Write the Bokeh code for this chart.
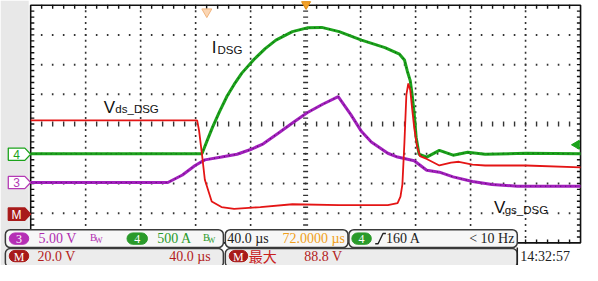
import math
from bokeh.plotting import figure
from bokeh.models import Range1d
from bokeh.core.properties import value
from bokeh.embed import file_html
from bokeh.resources import INLINE

# ---------------- data read from the screen ----------------
# time in µs relative to the screen centre (40 µs/div)
# Ch4  I_DSG  (500 A/div, ground marker 1 div below centre)
t_ids = [-200.0, -75.4, -71.2, -67.6, -62.7, -57.0, -52.0, -46.4, -37.9, -29.4,
         -21.6, -9.6, 1.1, 11.7, 24.4, 40.7, 57.7, 68.3, 71.9, 74.0,
         76.1, 77.5, 79.0, 80.4, 82.5, 88.1, 97.3, 107.3, 117.9, 130.6,
         160.4, 200.0]
i_ids = [0, 0, 246, 452, 706, 976, 1167, 1357, 1579, 1770,
         1913, 2056, 2119, 2127, 2056, 1913, 1786, 1675, 1579, 1389,
         1230, 992, 675, 278, -8, -56, 56, -24, 24, -8,
         8, 0]
# Math M  Vds_DSG  (20 V/div, ground marker 3 div below centre)
t_vds = [-200.0, -78.9, -77.5, -75.4, -73.3, -68.3, -61.2, -52.0, -32.9, -9.6,
         24.4, 59.8, 66.9, 69.0, 70.4, 71.9, 73.3, 74.7, 76.1, 77.5,
         79.0, 81.1, 83.2, 88.1, 97.3, 105.8, 111.5, 121.4, 130.6, 160.4,
         200.0]
v_vds = [62.5, 62.5, 55.6, 39.7, 22.5, 7.9, 4.1, 2.9, 4.1, 6.0,
         5.4, 5.4, 6.7, 11.1, 19.4, 47.9, 79.7, 87.3, 82.9, 70.2,
         57.5, 44.8, 38.4, 36.5, 32.1, 34.0, 34.6, 32.7, 32.1, 32.1,
         30.8]
# Ch3  Vgs_DSG  (5 V/div, ground marker 2 div below centre)
t_vgs = [-200.0, -100.2, -89.6, -80.4, -73.3, -61.2, -49.9, -40.0, -30.8, -20.2,
         -9.6, 1.1, 12.4, 23.7, 32.9, 40.7, 47.8, 59.8, 66.9, 79.0,
         88.1, 97.3, 107.3, 121.4, 135.6, 154.0, 200.0]
v_vgs = [0.16, 0.16, 1.43, 3.02, 3.97, 4.44, 4.92, 5.71, 6.67, 8.41,
         10.16, 11.90, 13.33, 14.60, 11.59, 8.73, 6.98, 5.08, 4.44, 3.81,
         2.22, 1.90, 1.11, 0.32, -0.16, -0.48, -0.48]

US_PER_DIV = 40.0
A_PER_DIV = 500.0
VGS_PER_DIV = 5.0
VDS_PER_DIV = 20.0
GND_CH4, GND_CH3, GND_M = -1, -2, -3

# status-bar texts
ch3_scale, ch4_scale, m_scale = "5.00 V", "500 A", "20.0 V"
timebase, hpos, mtime = "40.0 µs", "72.0000 µs", "40.0 µs"
trig_level, trig_freq = "160 A", "< 10 Hz"
max_label, max_value, clock = "最大", "88.8 V", "14:32:57"

# ---------------- screen geometry (reference pixels -> screen units) ----------------
CX, CY, PXX, PXY = 313.5, 131.0, 56.5, 31.5


def X(px):
    return (px - CX) / PXX * US_PER_DIV


def Y(py):
    return (CY - py) / PXY


y0, y1 = Y(281), Y(0)
p = figure(width=582, height=265, x_range=Range1d(X(0), X(598)), y_range=Range1d(y0, y1),
           x_axis_type=None, y_axis_type=None, min_border=0,
           toolbar_location=None, output_backend="svg")
p.outline_line_color = None
p.background_fill_color = "white"
p.border_fill_color = "white"
p.extra_y_ranges = {
    "ch4": Range1d((y0 - GND_CH4) * A_PER_DIV, (y1 - GND_CH4) * A_PER_DIV),
    "ch3": Range1d((y0 - GND_CH3) * VGS_PER_DIV, (y1 - GND_CH3) * VGS_PER_DIV),
    "m": Range1d((y0 - GND_M) * VDS_PER_DIV, (y1 - GND_M) * VDS_PER_DIV),
}

NARROW = "Liberation Sans Narrow"
SANS = "Liberation Sans"

# left grey strip
p.quad(left=[X(0)], right=[X(29)], top=[Y(0)], bottom=[Y(281)], fill_color="#e8e8e8", line_color=None)

# graticule dots
TMIN, TMAX = -5 * US_PER_DIV, 5 * US_PER_DIV
gx, gy = [], []
for k in range(-5, 6):
    if k in (-5, 0, 5):
        continue
    for j in range(1, 40):
        gx.append(k * US_PER_DIV)
        gy.append(-4 + 0.2 * j)
for d in range(-4, 5):
    if d in (-4, 0, 4):
        continue
    for j in range(1, 50):
        gx.append(TMIN + j * US_PER_DIV / 5)
        gy.append(d)
p.rect(x=gx, y=gy, width=1.6, height=2.0, width_units="screen", height_units="screen",
       fill_color="#333333", line_color=None)

# centre cross tick marks
tick_t = [TMIN + j * US_PER_DIV / 5 for j in range(1, 50)]
tick_d = [-4 + 0.2 * j for j in range(1, 40)]
p.rect(x=[0.0] * len(tick_d), y=tick_d, width=5, height=1.4, width_units="screen", height_units="screen",
       fill_color="#333333", line_color=None)
p.rect(x=tick_t, y=[0.0] * len(tick_t), width=1.4, height=5, width_units="screen", height_units="screen",
       fill_color="#333333", line_color=None)
# border ticks (pointing inward)
p.rect(x=tick_t, y=[4 - 0.05] * len(tick_t), width=1.4, height=4, width_units="screen", height_units="screen",
       fill_color="#111111", line_color=None)
p.rect(x=tick_t, y=[-4 + 0.05] * len(tick_t), width=1.4, height=4, width_units="screen", height_units="screen",
       fill_color="#111111", line_color=None)
p.rect(x=[TMIN + 1.2] * len(tick_d), y=tick_d, width=4, height=1.4, width_units="screen", height_units="screen",
       fill_color="#111111", line_color=None)
p.rect(x=[TMAX - 1.2] * len(tick_d), y=tick_d, width=4, height=1.4, width_units="screen", height_units="screen",
       fill_color="#111111", line_color=None)
# border
p.line([TMIN, TMIN, TMAX, TMAX, TMIN], [-4, 4, 4, -4, -4], line_color="#111", line_width=1.6)

# ---------------- traces ----------------
GREEN, MAGENTA, RED = "#1ba31b", "#a21fbd", "#e41515"
p.line(t_ids, i_ids, y_range_name="ch4", line_color=GREEN, line_width=3)
p.line(t_ids, i_ids, y_range_name="ch4", line_color="#111", line_width=1.1, line_dash="1 4", line_alpha=0.55)
p.line(t_vgs, v_vgs, y_range_name="ch3", line_color=MAGENTA, line_width=3)
p.line(t_vgs, v_vgs, y_range_name="ch3", line_color="#111", line_width=1.1, line_dash="1 4", line_alpha=0.55)
p.line(t_vds, v_vds, y_range_name="m", line_color=RED, line_width=1.8)


def label(px, py, s, color, size, font=NARROW, align="left", baseline="middle", style="normal"):
    p.text(x=[X(px)], y=[Y(py)], text=[s], text_color=color, text_font_size=f"{size}px",
           text_font=value(font), text_align=align, text_baseline=baseline, text_font_style=style)


# trace labels
label(217, 50, "I", "#111", 17, SANS, baseline="alphabetic")
label(223, 52.5, "DSG", "#111", 11.5, SANS, baseline="alphabetic")
label(106, 113, "V", "#111", 17, SANS, baseline="alphabetic")
label(118, 115.5, "ds_DSG", "#111", 11.5, SANS, baseline="alphabetic")
label(507, 220, "V", "#111", 17, SANS, baseline="alphabetic")
label(518, 222.5, "gs_DSG", "#111", 11.5, SANS, baseline="alphabetic")

# trigger / position markers
p.scatter([X(314)], [Y(4)], marker="inverted_triangle", size=9, fill_color="#f2a12a", line_color="#e08a10")
p.scatter([X(212)], [Y(12)], marker="inverted_triangle", size=10, fill_color="#fbd6b4", line_color="#f1b47c")
p.scatter([X(592)], [Y(153)], marker="triangle", angle=math.pi / 2, size=9, fill_color=GREEN, line_color=GREEN)


# channel ground markers
def marker(ypx, txt, line, fill, tcolor):
    xs = [X(8), X(25), X(31), X(25), X(8)]
    ys = [Y(ypx - 6.5), Y(ypx - 6.5), Y(ypx), Y(ypx + 6.5), Y(ypx + 6.5)]
    p.patch(xs, ys, fill_color=fill, line_color=line, line_width=1.3)
    label(16.5, ypx + 0.5, txt, tcolor, 12, SANS, align="center")


M_RED = "#a81a1a"
marker(163, "4", GREEN, "white", GREEN)
marker(193, "3", "#b43ab4", "white", "#b43ab4")
marker(226.5, "M", M_RED, M_RED, "white")


# ---------------- status bar ----------------
def box(x0, x1, ya, yb, fill, line="#3a3a3a", lw=1.5, r=5):
    p.quad(left=[X(x0)], right=[X(x1)], top=[Y(ya)], bottom=[Y(yb)], fill_color=fill,
           line_color=line, line_width=lw, border_radius=r)


def pill(x0, x1, yc, fill, txt):
    box(x0, x1, yc - 6, yc + 6, fill, line=fill, lw=1, r=6)
    label((x0 + x1) / 2, yc + 0.5, txt, "white", 12, NARROW, align="center")


ST_MAG, ST_GRN, ST_RED, ORANGE = "#b02cb0", "#2a9a2a", "#b31c1c", "#f0a020"
R1, R2 = 252.5, 271.0
box(5, 229, 243, 262, "#f7f7f7")
box(231, 357, 243, 262, "#f7f7f7")
box(358, 531, 243, 262, "#f7f7f7")
box(5, 229, 263, 283, "#ececec")
box(231, 531, 263, 283, "#ececec")
p.line([X(531), X(531)], [Y(262), Y(283)], line_color="#222", line_width=1.5)

pill(9, 29, R1, "#b52fb5", "3")
label(39, R1, ch3_scale, ST_MAG, 14)
label(92, R1 - 1, "B", ST_MAG, 10)
label(97, R1 + 2, "W", ST_MAG, 8)
pill(130, 151, R1, ST_GRN, "4")
label(161, R1, ch4_scale, ST_GRN, 14)
label(208, R1 - 1, "B", ST_GRN, 10)
label(213, R1 + 2, "W", ST_GRN, 8)
label(233, R1, timebase, "#222", 14)
label(354, R1, hpos, ORANGE, 14, align="right")
pill(361, 381, R1, ST_GRN, "4")
p.line([X(385), X(388), X(393), X(396)], [Y(258), Y(258), Y(247), Y(247)], line_color="#222", line_width=1.4)
label(396, R1, trig_level, "#222", 14)
label(528, R1, trig_freq, "#222", 14, align="right")

pill(9, 29, R2, M_RED, "M")
label(38, R2, m_scale, ST_RED, 14)
label(216, R2, mtime, ST_RED, 14, align="right")
pill(235, 254, R2, M_RED, "M")
label(255, R2 - 0.5, max_label, "#c8201c", 14, "Noto Sans CJK SC")
label(312, R2, max_value, ST_RED, 14)
label(534, R2, clock, "#222", 14)

open("out.html", "w").write(file_html(p, INLINE))
